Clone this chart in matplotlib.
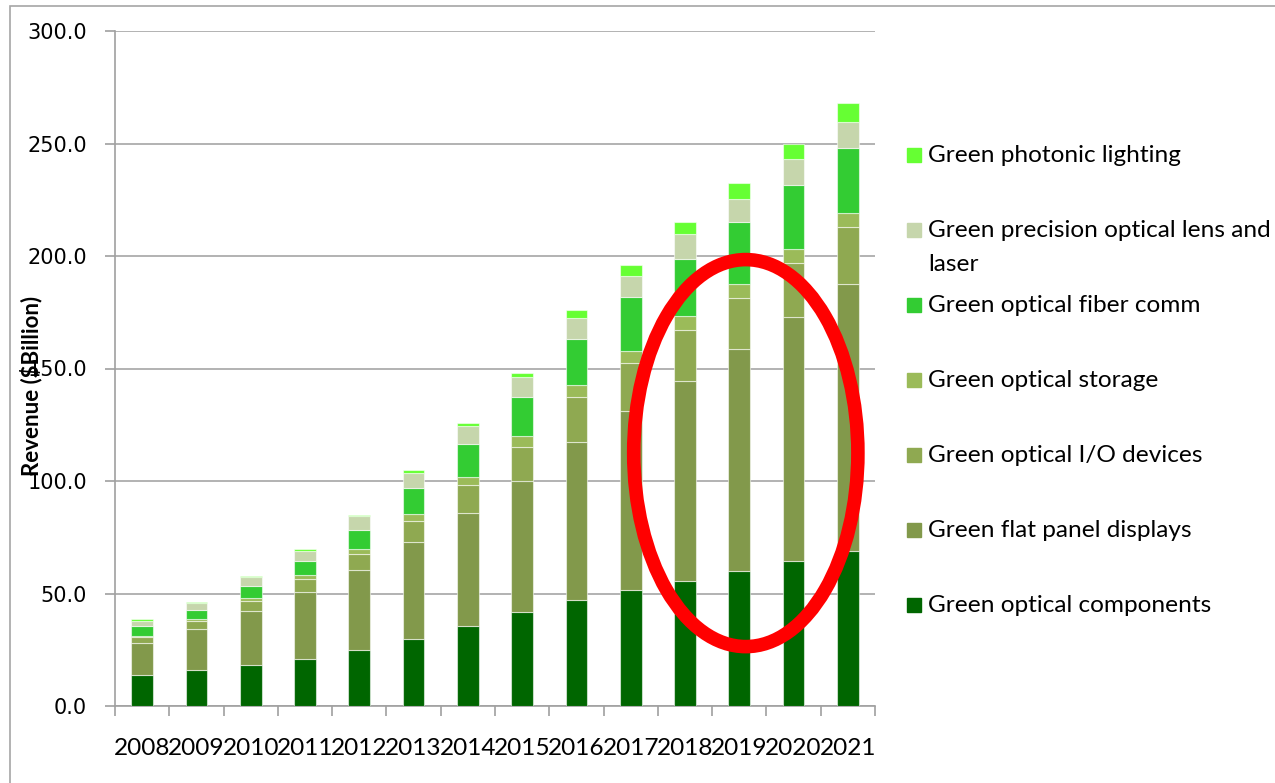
import matplotlib
matplotlib.use("Agg")
import matplotlib.pyplot as plt
import numpy as np
from matplotlib.patches import Ellipse, Rectangle

years = ["2008", "2009", "2010", "2011", "2012", "2013", "2014",
         "2015", "2016", "2017", "2018", "2019", "2020", "2021"]

# revenue by segment, $Billion (stacked bottom -> top)
components = [13.9, 16.2, 18.4, 21.0, 25.0, 29.9, 35.6, 41.6, 47.3, 51.7, 55.7, 60.2, 64.6, 69.1]
flat_panel = [14.2, 17.9, 24.0, 29.7, 35.6, 43.1, 50.2, 58.5, 70.2, 79.3, 88.9, 98.4, 108.3, 118.4]
io_devices = [2.4, 3.8, 4.4, 5.6, 6.8, 9.4, 12.3, 14.9, 19.7, 21.3, 22.5, 22.7, 23.9, 25.2]
storage = [0.6, 0.6, 1.2, 1.8, 2.2, 2.9, 3.8, 5.0, 5.5, 5.5, 6.1, 6.4, 6.4, 6.2]
fiber = [4.5, 4.2, 5.3, 6.3, 8.8, 11.6, 14.5, 17.5, 20.5, 23.8, 25.4, 27.3, 28.4, 29.0]
lens_laser = [2.3, 3.2, 4.2, 4.5, 5.9, 6.8, 8.0, 8.7, 9.2, 9.6, 11.0, 10.5, 11.3, 11.7]
lighting = [0.6, 0.5, 0.4, 0.7, 0.4, 1.0, 1.5, 1.9, 3.6, 4.9, 5.4, 6.8, 7.1, 8.3]

series = [
    ("Green optical components", components, "#006600"),
    ("Green flat panel displays", flat_panel, "#82994b"),
    ("Green optical I/O devices", io_devices, "#8fa951"),
    ("Green optical storage", storage, "#9bbb59"),
    ("Green optical fiber comm", fiber, "#33cc33"),
    ("Green precision optical lens and\nlaser", lens_laser, "#c6d6ac"),
    ("Green photonic lighting", lighting, "#66ff33"),
]

W, H = 1275, 783
fig = plt.figure(figsize=(W / 100, H / 100), dpi=100)
ax = fig.add_axes([115 / W, 1 - 706 / H, 760 / W, 675 / H])

x = np.arange(len(years))
bottom = np.zeros(len(years))
for name, vals, color in series:
    ax.bar(x, vals, width=0.4, bottom=bottom, color=color,
           edgecolor=(1, 1, 1, 0.55), linewidth=0.8, zorder=3)
    bottom += np.array(vals)

ax.set_xlim(-0.5, len(years) - 0.5)
ax.set_ylim(0, 300)
ax.set_yticks(np.arange(0, 301, 50))
ax.set_yticklabels([f"{v:.1f}" for v in np.arange(0, 301, 50)],
                   fontsize=15, family="DejaVu Sans")
ax.set_xticks(x)
ax.set_xticklabels(years, fontsize=17.6, family="Lato")
ax.set_xticks(np.arange(-0.5, len(years)), minor=True)
ax.tick_params(axis="x", which="major", length=0, pad=23)
ax.tick_params(axis="x", which="minor", length=7, width=1.2, color="#a0a0a0")
ax.tick_params(axis="y", length=7, width=1.2, color="#a0a0a0", pad=13)

ax.grid(axis="y", color="#a6a6a6", linewidth=1.2, zorder=0)
for side in ("top", "right"):
    ax.spines[side].set_visible(False)
for side in ("left", "bottom"):
    ax.spines[side].set_color("#a0a0a0")
    ax.spines[side].set_linewidth(1.2)

fig.text(31 / W, 1 - 386 / H, "Revenue ($Billion)", rotation=90,
         ha="center", va="center", fontsize=16, fontweight="bold", family="Lato")

# highlight the 2018-2021 bars
ax.add_patch(Ellipse((11.12, 112.4), width=4.13, height=172, fill=False,
                     edgecolor="#ff0000", linewidth=9.8, zorder=5, clip_on=False))

# legend, top entry first
for i, (name, vals, color) in enumerate(reversed(series)):
    yc = 155 + 75 * i
    fig.add_artist(Rectangle((907 / W, 1 - (yc + 7) / H), 14 / W, 14 / H,
                             transform=fig.transFigure, color=color))
    fig.text(928 / W, 1 - (yc - 10) / H, name, ha="left", va="top",
             fontsize=17.6, family="Lato", linespacing=1.75)

# chart area border
fig.add_artist(Rectangle((10 / W, -0.1), 2, 1.1 - 6 / H, transform=fig.transFigure,
                         fill=False, edgecolor="#a6a6a6", linewidth=1.2))

fig.savefig("out.png", dpi=100)
